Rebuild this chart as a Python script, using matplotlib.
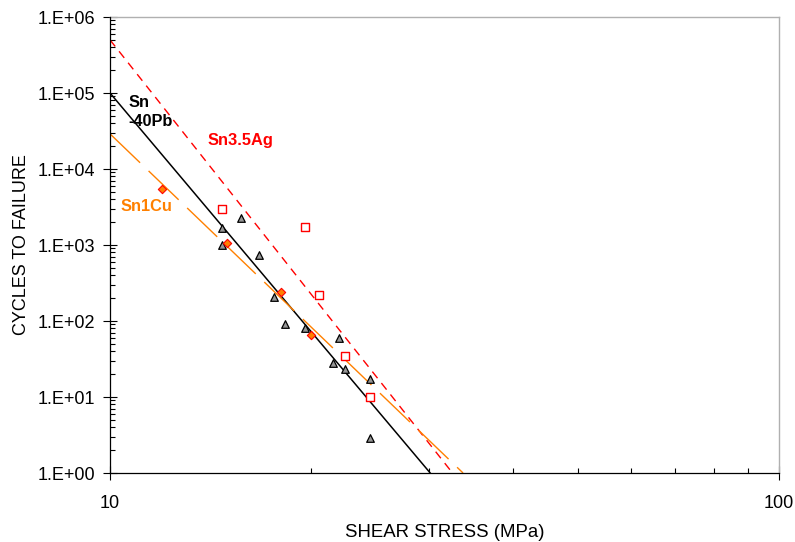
import matplotlib.pyplot as plt
from matplotlib.ticker import FixedLocator, LogLocator, NullFormatter

plt.rcParams['font.family'] = ['Liberation Sans', 'DejaVu Sans']

# Sn-40Pb test results (MPa, cycles)
snpb_stress = [14.69, 14.69, 15.68, 16.68, 17.59, 18.28, 19.56, 21.97, 21.57, 22.47, 24.47, 24.47]
snpb_cycles = [1660, 1000, 2245, 732, 205, 90.5, 80, 60.3, 27.8, 23.6, 17.1, 2.86]

# Sn3.5Ag
snag_stress = [14.69, 19.56, 20.55, 22.47, 24.47]
snag_cycles = [2950, 1741, 222, 35, 10]

# Sn1Cu
sncu_stress = [11.97, 14.97, 18.0, 19.95]
sncu_cycles = [5460, 1072, 239, 65]

# power-law trend lines, end points
snpb_fit_x = [10, 30.1]
snpb_fit_y = [1.0e5, 1]
snag_fit_x = [10, 32.5]
snag_fit_y = [5.0e5, 1]
sncu_fit_x = [10, 33.7]
sncu_fit_y = [2.9e4, 1]

y_ticks = [1, 10, 100, 1e3, 1e4, 1e5, 1e6]
y_labels = ['1.E+00', '1.E+01', '1.E+02', '1.E+03', '1.E+04', '1.E+05', '1.E+06']

RED = '#FF0000'
ORANGE = '#FF8000'

fig = plt.figure(figsize=(7.95, 5.42), dpi=100)
ax = fig.add_axes([0.1384, 0.1273, 0.8416, 0.8413])

ax.plot(snpb_fit_x, snpb_fit_y, color='black', lw=1.1)
ax.plot(snag_fit_x, snag_fit_y, color=RED, lw=1.0, dashes=(6, 4.5))
ax.plot(sncu_fit_x, sncu_fit_y, color=ORANGE, lw=1.0, dashes=(30, 8.5))

ax.scatter(snpb_stress, snpb_cycles, marker='^', s=30, facecolor='#969696',
           edgecolor='black', linewidth=0.9, zorder=3)
ax.scatter(snag_stress, snag_cycles, marker='s', s=30, facecolor='white',
           edgecolor=RED, linewidth=1.0, zorder=3)
ax.scatter(sncu_stress, sncu_cycles, marker='D', s=18, facecolor=ORANGE,
           edgecolor=RED, linewidth=0.8, zorder=3)

ax.text(10.64, 5.6e4, 'Sn\n-40Pb', color='black', fontsize=11.8, fontweight='bold',
        ha='left', va='center', linespacing=1.35)
ax.text(15.65, 2.4e4, 'Sn3.5Ag', color=RED, fontsize=11.8, fontweight='bold',
        ha='center', va='center')
ax.text(11.32, 3260, 'Sn1Cu', color=ORANGE, fontsize=11.8, fontweight='bold',
        ha='center', va='center')

ax.set_xscale('log')
ax.set_yscale('log')
ax.set_xlim(10, 100)
ax.set_ylim(1, 1e6)

ax.xaxis.set_major_locator(FixedLocator([10, 100]))
ax.set_xticklabels(['10', '100'])
ax.xaxis.set_minor_locator(LogLocator(base=10, subs=range(2, 10)))
ax.xaxis.set_minor_formatter(NullFormatter())
ax.yaxis.set_major_locator(FixedLocator(y_ticks))
ax.set_yticklabels(y_labels)
ax.yaxis.set_minor_locator(LogLocator(base=10, subs=range(2, 10), numticks=20))
ax.yaxis.set_minor_formatter(NullFormatter())

ax.tick_params(which='major', direction='inout', length=10, width=0.8, labelsize=13)
ax.tick_params(axis='y', which='major', pad=6)
ax.tick_params(axis='x', which='major', pad=11)
ax.tick_params(which='minor', direction='in', length=3.6, width=0.8)

# light grey plot-area border, black axes on the left and bottom
for side in ['top', 'right']:
    ax.spines[side].set_color('#b0b0b0')
    ax.spines[side].set_linewidth(1.0)
for side in ['left', 'bottom']:
    ax.spines[side].set_linewidth(0.9)
    ax.spines[side].set_zorder(3)

ax.set_xlabel('SHEAR STRESS (MPa)', fontsize=13.4, va='top')
ax.xaxis.set_label_coords(0.5, -0.112)
ax.set_ylabel('CYCLES TO FAILURE', fontsize=13)
ax.yaxis.set_label_coords(-0.1195, 0.5)

fig.savefig('out.png', dpi=100)
